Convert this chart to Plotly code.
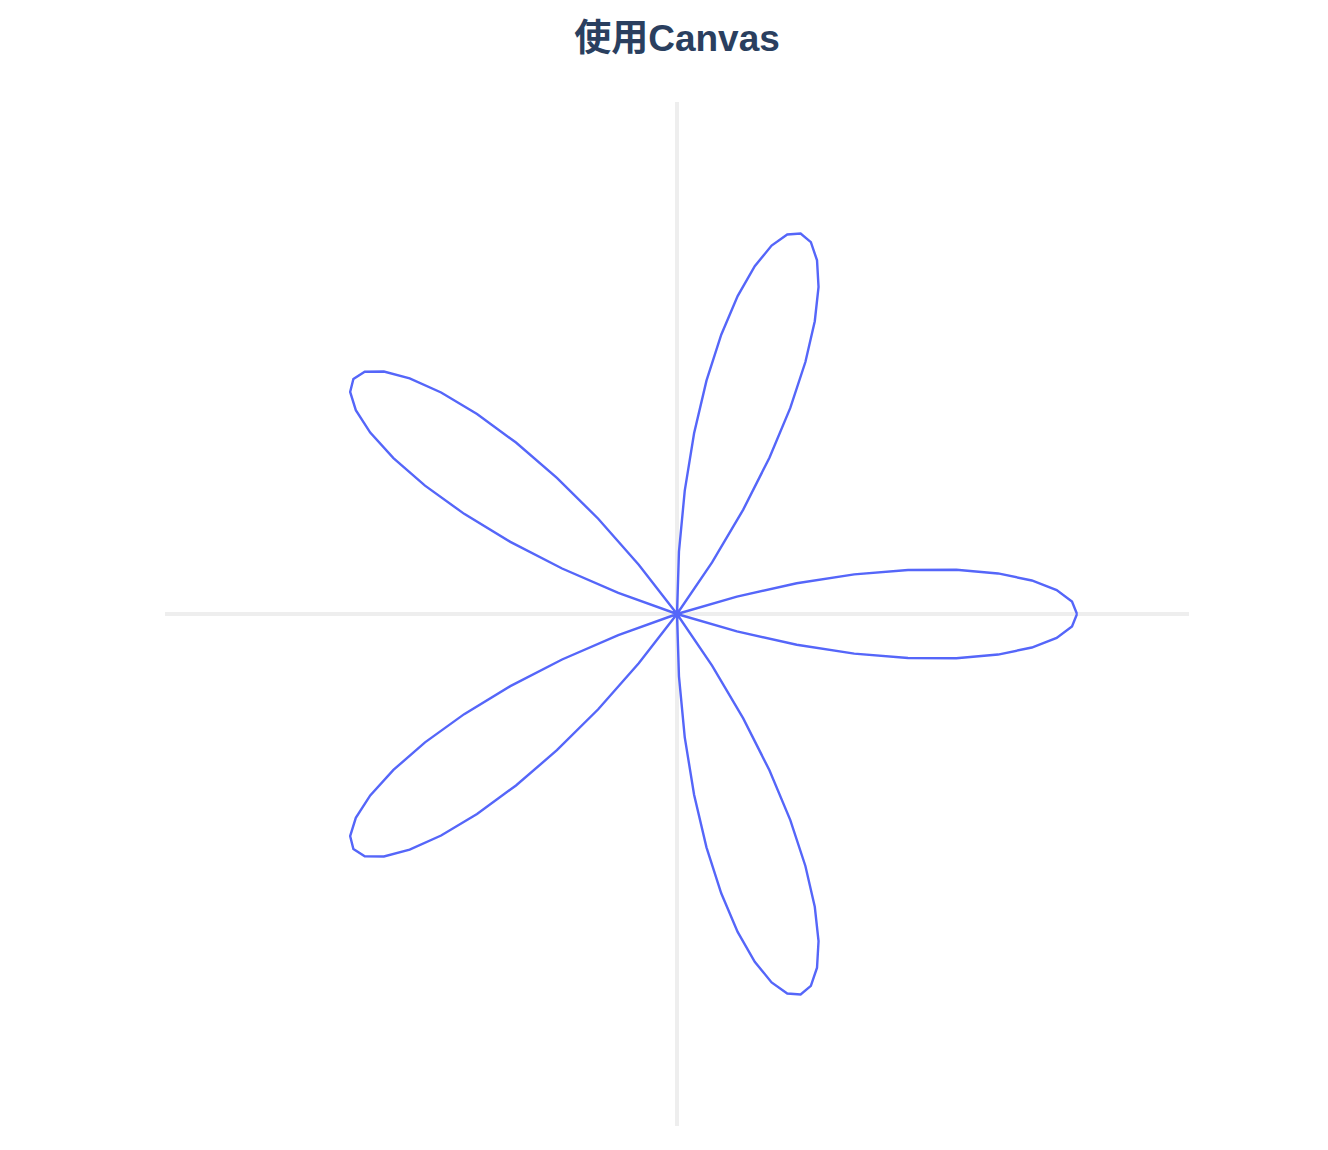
import plotly.graph_objects as go

# five-petal rose, points (theta in degrees, radius)
theta = [0.0, 1.8, 3.6, 5.4, 7.2, 9.0, 10.8, 12.6, 14.4, 16.2, 18.0,
         199.8, 201.6, 203.4, 205.2, 207.0, 208.8, 210.6, 212.4, 214.2, 216.0,
         217.8, 219.6, 221.4, 223.2, 225.0, 226.8, 228.6, 230.4, 232.2, 54.0,
         55.8, 57.6, 59.4, 61.2, 63.0, 64.8, 66.6, 68.4, 70.2, 72.0,
         73.8, 75.6, 77.4, 79.2, 81.0, 82.8, 84.6, 86.4, 88.2, 90.0,
         271.8, 273.6, 275.4, 277.2, 279.0, 280.8, 282.6, 284.4, 286.2, 288.0,
         289.8, 291.6, 293.4, 295.2, 297.0, 298.8, 300.6, 302.4, 304.2, 126.0,
         127.8, 129.6, 131.4, 133.2, 135.0, 136.8, 138.6, 140.4, 142.2, 144.0,
         145.8, 147.6, 149.4, 151.2, 153.0, 154.8, 156.6, 158.4, 160.2, 162.0,
         343.8, 345.6, 347.4, 349.2, 351.0, 352.8, 354.6, 356.4, 358.2, 360.0]
r = [1.0, 0.988, 0.951, 0.891, 0.809, 0.707, 0.588, 0.454, 0.309, 0.156, 0.0,
     0.156, 0.309, 0.454, 0.588, 0.707, 0.809, 0.891, 0.951, 0.988, 1.0,
     0.988, 0.951, 0.891, 0.809, 0.707, 0.588, 0.454, 0.309, 0.156, 0.0,
     0.156, 0.309, 0.454, 0.588, 0.707, 0.809, 0.891, 0.951, 0.988, 1.0,
     0.988, 0.951, 0.891, 0.809, 0.707, 0.588, 0.454, 0.309, 0.156, 0.0,
     0.156, 0.309, 0.454, 0.588, 0.707, 0.809, 0.891, 0.951, 0.988, 1.0,
     0.988, 0.951, 0.891, 0.809, 0.707, 0.588, 0.454, 0.309, 0.156, 0.0,
     0.156, 0.309, 0.454, 0.588, 0.707, 0.809, 0.891, 0.951, 0.988, 1.0,
     0.988, 0.951, 0.891, 0.809, 0.707, 0.588, 0.454, 0.309, 0.156, 0.0,
     0.156, 0.309, 0.454, 0.588, 0.707, 0.809, 0.891, 0.951, 0.988, 1.0]
axis_angles = [0, 90, 180, 270]

W, H = 1328, 1150
cx, cy, rad = 669, 606, 512  # centre and radius of the polar area in px (page adds 8px)

fig = go.Figure()
fig.add_trace(go.Scatterpolar(
    r=r, theta=theta, mode="lines",
    line=dict(color="#5566f9", width=2.4),
    showlegend=False,
))

fig.update_layout(
    width=W, height=H,
    margin=dict(l=0, r=0, t=0, b=0),
    paper_bgcolor="white",
    title=dict(
        text="<b>使用Canvas</b>",
        x=cx / W, xanchor="center",
        y=1 - 30 / H, yanchor="middle", yref="container",
        font=dict(family="Liberation Sans, Noto Sans CJK SC", size=37, color="#2a3f5f"),
    ),
    polar=dict(
        domain=dict(x=[(cx - rad) / W, (cx + rad) / W],
                    y=[(H - cy - rad) / H, (H - cy + rad) / H]),
        bgcolor="white",
        radialaxis=dict(visible=False, range=[0, 1.28], showgrid=False),
        angularaxis=dict(tickmode="array", tickvals=axis_angles,
                         showticklabels=False, ticks="", showline=False,
                         gridcolor="#eeeeee", gridwidth=4),
    ),
)

fig.write_html("out.html")
